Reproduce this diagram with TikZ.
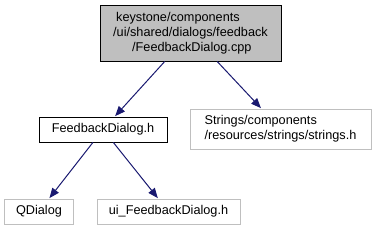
\documentclass[tikz,border=0pt]{standalone}
\usepackage{fontspec}
\setmainfont{Liberation Sans}
\usetikzlibrary{arrows.meta}
\definecolor{edgeblue}{HTML}{191970}
\definecolor{lightborder}{HTML}{BFBFBF}
\tikzset{
  box/.style={draw, line width=1pt, rectangle, inner sep=0pt, font=\fontsize{12.7}{15}\selectfont, fill=white},
  main/.style={box, fill=lightborder, draw=black},
  plain/.style={box, draw=lightborder},
  focus/.style={box, draw=black},
  dep/.style={draw=edgeblue, line width=1pt, -{Triangle[length=10pt,width=8pt]}, shorten >=0.5pt}
}
\begin{document}
\begin{tikzpicture}[x=1pt,y=-1pt]
\useasboundingbox (0,0) rectangle (376,231);
\node[main, minimum width=181pt, minimum height=56pt] (top) at (190.5,33)
  {\begin{tabular}{@{}l@{}}\hspace*{3pt}keystone/components\\/ui/shared/dialogs/feedback\\\hspace*{19pt}/FeedbackDialog.cpp\end{tabular}};
\node[focus, minimum width=128pt, minimum height=25pt] (fd) at (103,129.5) {FeedbackDialog.h};
\node[plain, minimum width=181pt, minimum height=40pt] (str) at (280.5,129)
  {\begin{tabular}{@{}l@{}}Strings/components\\/resources/strings/strings.h\end{tabular}};
\node[plain, minimum width=68pt, minimum height=25pt] (qd) at (39,211.5) {QDialog};
\node[plain, minimum width=143pt, minimum height=25pt] (ui) at (168.5,211.5) {ui\_FeedbackDialog.h};
\draw[dep] (top) -- (fd);
\draw[dep] (top) -- (str);
\draw[dep] (fd) -- (qd);
\draw[dep] (fd) -- (ui);
\end{tikzpicture}
\end{document}
